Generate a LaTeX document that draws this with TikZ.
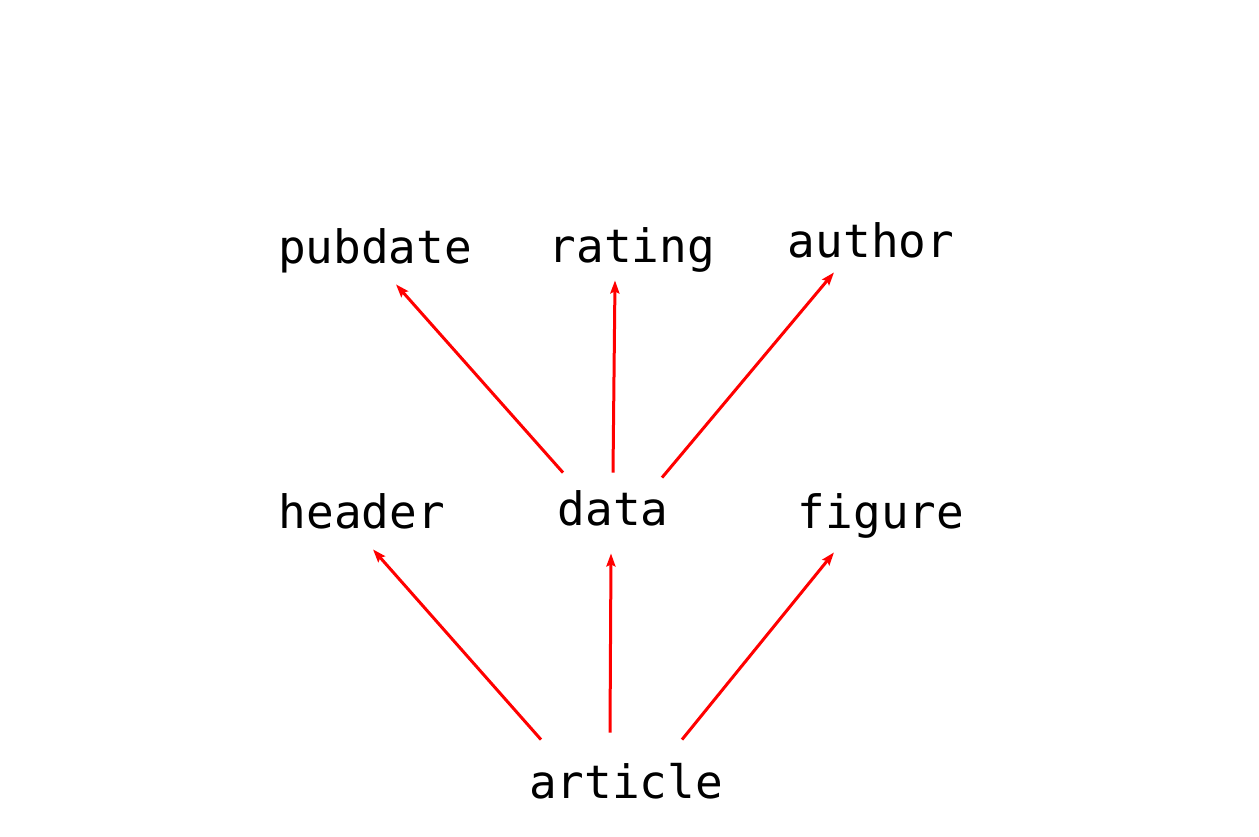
\documentclass[tikz,border=0pt]{standalone}
\usepackage{fontspec}
\setmonofont{DejaVu Sans Mono}
\usetikzlibrary{arrows.meta}
\begin{document}
\begin{tikzpicture}[x=1pt, y=-1pt, thick, >={Stealth[length=13pt,width=9pt,inset=2pt]},
    word/.style={font=\ttfamily\fontsize{46}{50}\selectfont, text height=35pt, text depth=11pt, inner xsep=0pt, inner ysep=10pt, anchor=base}]
  \useasboundingbox (0,0) rectangle (1259,836);
  \node [word] (pubdate) at (375,263) {pubdate};
  \node [word] (rating) at (632,262) {rating};
  \node [word] (author) at (871,257) {author};
  \node [word] (header) at (362,528) {header};
  \node [word] (data) at (613,525) {data};
  \node [word] (figure) at (881,528) {figure};
  \node [word] (article) at (626,798) {article};
  \path[->, red, line width=3pt]
    ([xshift=-50pt,yshift=7pt]data.north) edge ([xshift=21pt]pubdate.south)
    ([yshift=7pt]data.north) edge ([xshift=-17pt,yshift=3pt]rating.south)
    ([xshift=49pt,yshift=2pt]data.north) edge ([xshift=-37pt,yshift=6pt]author.south)
    ([xshift=-85pt,yshift=13pt]article.north) edge ([xshift=11pt]header.south)
    ([xshift=-16pt,yshift=20pt]article.north) edge ([xshift=-2pt,yshift=-7pt]data.south)
    ([xshift=56pt,yshift=13pt]article.north) edge ([xshift=-47pt,yshift=-3pt]figure.south);
\end{tikzpicture}
\end{document}
